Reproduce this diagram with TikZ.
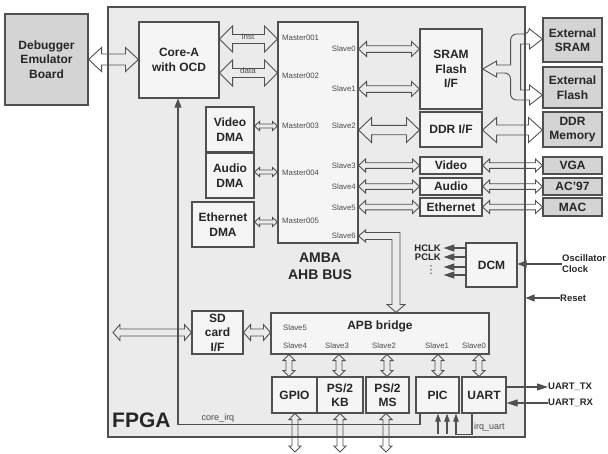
\documentclass[tikz,border=0pt]{standalone}
\usepackage{fontspec}
\setmainfont{Liberation Sans}
\newfontfamily\dejavufont{DejaVu Sans}
\usetikzlibrary{calc,arrows.meta}
\definecolor{linec}{HTML}{505050}
\definecolor{fpgafill}{HTML}{EBEBEB}
\definecolor{boxfill}{HTML}{F5F5F5}
\definecolor{extfill}{HTML}{D4D4D4}
\definecolor{txtc}{HTML}{262626}
\definecolor{lblc}{HTML}{4A4A4A}
% horizontal hollow double arrow: start, end, shaft half, head half, head length
\newcommand{\fatH}[5]{\draw[fatline] let \p1=(#1), \p2=(#2) in
  (\x1,\y1) -- (\x1+#5pt,\y1+#4pt) -- (\x1+#5pt,\y1+#3pt) -- (\x2-#5pt,\y1+#3pt) -- (\x2-#5pt,\y1+#4pt) -- (\x2,\y1)
  -- (\x2-#5pt,\y1-#4pt) -- (\x2-#5pt,\y1-#3pt) -- (\x1+#5pt,\y1-#3pt) -- (\x1+#5pt,\y1-#4pt) -- cycle;}
% vertical hollow double arrow: top, bottom, shaft half, head half, head length
\newcommand{\fatV}[5]{\draw[fatline] let \p1=(#1), \p2=(#2) in
  (\x1,\y1) -- (\x1+#4pt,\y1-#5pt) -- (\x1+#3pt,\y1-#5pt) -- (\x1+#3pt,\y2+#5pt) -- (\x1+#4pt,\y2+#5pt) -- (\x1,\y2)
  -- (\x1-#4pt,\y2+#5pt) -- (\x1-#3pt,\y2+#5pt) -- (\x1-#3pt,\y1-#5pt) -- (\x1-#4pt,\y1-#5pt) -- cycle;}
\begin{document}
\begin{tikzpicture}[x=1pt,y=-1pt,
  box/.style={draw=linec,line width=1.1pt,fill=boxfill,inner sep=0pt,align=center,text=txtc,
    font=\fontsize{12}{14.5}\selectfont\bfseries},
  extbox/.style={box,fill=extfill},
  lbl/.style={font=\fontsize{7.8}{9}\selectfont,text=lblc,inner sep=0pt},
  biglbl/.style={font=\fontsize{9.5}{11}\selectfont\bfseries,text=txtc,inner sep=0pt,align=left},
  fatline/.style={draw=linec,line width=0.9pt,line join=miter},
  sig/.style={draw=linec,line width=1.1pt,-{Triangle[length=9pt,width=7pt]}},
  ]
\useasboundingbox (0,0) rectangle (608,453);
\node[draw=linec,line width=1.1pt,fill=fpgafill,minimum width=417pt,minimum height=430pt,inner sep=0pt] (fpga) at (316.5,222) {};
\node[extbox,minimum width=83pt,minimum height=91pt] (dbg) at (46.5,59.5) {Debugger\\Emulator\\Board};
\node[box,minimum width=80pt,minimum height=76pt] (core) at (179,60) {Core-A\\with OCD};
\node[box,minimum width=80pt,minimum height=221pt] (ahb) at (318,132.5) {};
\node[box,minimum width=48pt,minimum height=45pt] (vdma) at (230,129.5) {Video\\DMA};
\node[box,minimum width=48pt,minimum height=45pt] (admu) at (230,175.5) {Audio\\DMA};
\node[box,minimum width=62pt,minimum height=45pt] (edma) at (223,224.5) {Ethernet\\DMA};
\node[box,minimum width=62pt,minimum height=80pt] (sram) at (451,69) {SRAM\\Flash\\I/F};
\node[box,minimum width=62pt,minimum height=35pt] (ddrif) at (451,129.5) {DDR I/F};
\node[box,minimum width=62pt,minimum height=17pt] (video) at (451,165.5) {Video};
\node[box,minimum width=62pt,minimum height=17pt] (audio) at (451,186.5) {Audio};
\node[box,minimum width=62pt,minimum height=18pt] (eth) at (451,207) {Ethernet};
\node[extbox,minimum width=59pt,minimum height=44pt] (extsram) at (572.5,40) {External\\SRAM};
\node[extbox,minimum width=59pt,minimum height=41pt] (extflash) at (572.5,87.5) {External\\Flash};
\node[extbox,minimum width=59pt,minimum height=35pt] (ddrmem) at (572.5,129.5) {DDR\\Memory};
\node[extbox,minimum width=59pt,minimum height=17pt] (vga) at (572.5,165.5) {VGA};
\node[extbox,minimum width=59pt,minimum height=17pt] (ac97) at (572.5,186.5) {AC’97};
\node[extbox,minimum width=59pt,minimum height=18pt] (mac) at (572.5,207) {MAC};
\node[box,minimum width=51pt,minimum height=44pt] (dcm) at (491.5,265) {DCM};
\node[box,minimum width=51pt,minimum height=43pt] (sd) at (217.5,332.5) {SD\\card\\I/F};
\node[box,minimum width=218pt,minimum height=41pt] (apb) at (380,333.5) {};
\node[box,minimum width=45pt,minimum height=36pt] (gpio) at (294.5,395) {GPIO};
\node[box,minimum width=46pt,minimum height=36pt] (kb) at (340,395) {PS/2\\KB};
\node[box,minimum width=43pt,minimum height=36pt] (ms) at (387.5,395) {PS/2\\MS};
\node[box,minimum width=43pt,minimum height=36pt] (pic) at (437.5,395) {PIC};
\node[box,minimum width=44pt,minimum height=36pt] (uart) at (484,395) {UART};
% labels
\node[font=\fontsize{21}{24}\selectfont\bfseries,text=txtc,anchor=base west,inner sep=0pt] (fpgalbl) at (112,427) {FPGA};
\node[font=\fontsize{14}{17}\selectfont\bfseries,text=txtc,align=center,inner sep=0pt] (ahblbl) at (320,266) {AMBA\\AHB BUS};
\node[font=\fontsize{12}{14}\selectfont\bfseries,text=txtc,inner sep=0pt] (apblbl) at (380,326) {APB bridge};
\foreach \t/\y in {Master001/38,Master002/76,Master003/126,Master004/173,Master005/221}
  \node[lbl,anchor=west] (m\y) at (282,\y) {\t};
\foreach \t/\y in {0/49,1/89,2/126,3/166,4/187,5/208,6/236}
  \node[lbl,anchor=east] (s\t) at (356,\y) {Slave\t};
\foreach \t/\x/\y in {5/295/328,4/295/346,3/337/346,2/384/346,1/437/346,0/474/346}
  \node[lbl] (p\t) at (\x,\y) {Slave\t};
\node[lbl,font=\fontsize{8}{9}\selectfont] (instlbl) at (248,37) {inst};
\node[lbl,font=\fontsize{8}{9}\selectfont] (datalbl) at (248,71) {data};
\node[lbl,font=\fontsize{9}{10}\selectfont,anchor=base] (irqlbl) at (218,420) {core\_irq};
\node[lbl,font=\fontsize{9}{10}\selectfont,anchor=base west] (uirqlbl) at (474,429) {irq\_uart};
\node[biglbl,anchor=east] (hclk) at (441,248) {HCLK};
\node[biglbl,anchor=east] (pclk) at (441,257) {PCLK};
\node[lbl,font=\dejavufont\fontsize{11}{12}\selectfont] (dots) at (431,270) {⋮};
\node[biglbl,anchor=west] (osc) at (562,264) {Oscillator\\Clock};
\node[biglbl,anchor=west] (rst) at (560,298) {Reset};
\node[biglbl,anchor=west] (tx) at (548,387) {UART\_TX};
\node[biglbl,anchor=west] (rx) at (548,403) {UART\_RX};
% fat hollow arrows
\fatH{dbg.east}{core.west}{5.5}{12}{13}
\fatH{core.east |- 0,39}{ahb.west |- 0,39}{4.5}{13}{13}
\fatH{core.east |- 0,73}{ahb.west |- 0,73}{4.5}{13}{13}
\fatH{vdma.east |- 0,126}{ahb.west |- 0,126}{2}{4.5}{5}
\fatH{admu.east |- 0,172}{ahb.west |- 0,172}{2}{4.5}{5}
\fatH{edma.east |- 0,222}{ahb.west |- 0,222}{2}{4.5}{5}
\fatH{ahb.east |- 0,49}{sram.west |- 0,49}{3.3}{7.5}{8}
\fatH{ahb.east |- 0,89}{sram.west |- 0,89}{3.3}{7.5}{8}
\fatH{ahb.east |- 0,130}{ddrif.west |- 0,130}{4.7}{12.5}{13}
\fatH{ddrif.east |- 0,130}{ddrmem.west |- 0,130}{5}{12.5}{14}
\foreach \na/\nb in {video/vga,audio/ac97,eth/mac}{
  \fatH{ahb.east |- \na.west}{\na.west}{2.8}{6.5}{7}
  \fatH{\na.east}{\nb.west}{2.8}{6.5}{7}
}
\coordinate (sdext) at (113,332.5);
\fatH{sdext}{sd.west}{3.5}{8}{7}
\fatH{sd.east}{apb.west |- sd.east}{3.5}{8}{7}
\foreach \na/\xa in {gpio/289,kb/339,ms/387,pic/438,uart/479}
  {\fatV{apb.south -| \xa,0}{\na.north -| \xa,0}{3}{6}{6}}
\coordinate (gx) at (295,452);
\coordinate (kx) at (340,452);
\coordinate (mx) at (386,452);
\fatV{gpio.south -| gx}{gx}{3}{6}{6}
\fatV{kb.south -| kx}{kx}{3}{6}{6}
\fatV{ms.south -| mx}{mx}{3}{6}{6}
% Slave6 -> APB bridge
\draw[fatline] let \p1=(ahb.east |- 0,236), \p2=(apb.north -| 396,0) in
  (\x1,\y1) -- (\x1+7pt,\y1+6pt) -- (\x1+7pt,\y1+3.5pt) -- (\x2+4pt,\y1+3.5pt) -- (\x2+4pt,\y2+8pt)
  -- (\x2+9pt,\y2+8pt) -- (\x2,\y2) -- (\x2-9pt,\y2+8pt) -- (\x2-4pt,\y2+8pt) -- (\x2-4pt,\y1-3.5pt)
  -- (\x1+7pt,\y1-3.5pt) -- (\x1+7pt,\y1-6pt) -- cycle;
% SRAM/Flash fork
\draw[fatline] let \p1=(sram.east), \p2=(extsram.west |- 0,39), \p3=(extflash.west |- 0,95) in
  (\x1,\y1) -- (\x1+14pt,\y1+8pt) -- (\x1+14pt,\y1+4pt) -- (\x1+28pt,\y1+4pt) [rounded corners=6pt]
  -- (\x1+28pt,\y2+5pt) -- (\x2-13pt,\y2+5pt) [sharp corners] -- (\x2-13pt,\y2+10pt) -- (\x2,\y2)
  -- (\x2-13pt,\y2-10pt) -- (\x2-13pt,\y2-5pt) -- (\x1+38pt,\y2-5pt) -- (\x1+38pt,\y3+5pt)
  -- (\x3-13pt,\y3+5pt) -- (\x3-13pt,\y3+10pt) -- (\x3,\y3) -- (\x3-13pt,\y3-10pt) -- (\x3-13pt,\y3-5pt)
  [rounded corners=6pt] -- (\x1+28pt,\y3-5pt) -- (\x1+28pt,\y1-4pt) [sharp corners] -- (\x1+14pt,\y1-4pt)
  -- (\x1+14pt,\y1-8pt) -- cycle;
% signal arrows
\draw[sig] (pic.south -| 420,0) -- ++(0,11) -| (core.south -| 178,0);
\coordinate (irqa) at (438,434);
\coordinate (irqb) at (447,434);
\draw[sig,-{Triangle[length=8pt,width=5.5pt]}] (irqa) -- (irqa |- pic.south);
\draw[sig,-{Triangle[length=8pt,width=5.5pt]}] (irqb) -- (irqb |- pic.south);
\draw[sig,-{Triangle[length=8pt,width=5.5pt]}] (uart.south -| 472,0) -- ++(0,21) -| (pic.south -| 456,0);
\foreach \yy in {248,257,267,275}
  \draw[sig,-{Triangle[length=11pt,width=7pt]}] (dcm.west |- 0,\yy) -- ++(-22,0);
\draw[sig] (osc.west) -- (dcm.east |- osc.west);
\draw[sig] (rst.west) -- (fpga.east |- rst.west);
\draw[sig,-{Triangle[length=11pt,width=7pt]}] (uart.east |- tx.west) -- (tx.west);
\draw[sig,-{Triangle[length=11pt,width=7pt]}] (rx.west) -- (uart.east |- rx.west);
\end{tikzpicture}
\end{document}
